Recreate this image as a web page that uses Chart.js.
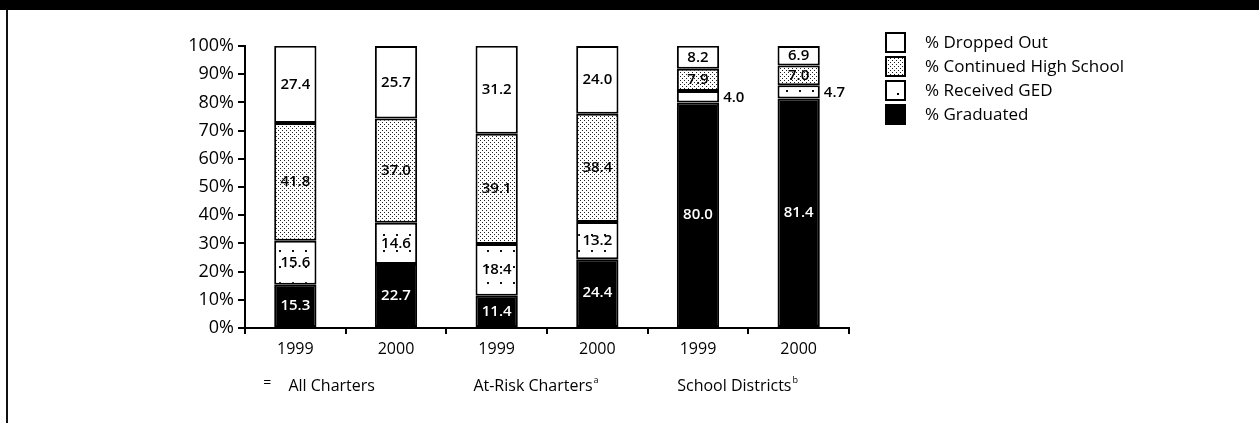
<!DOCTYPE html>
<html>
<head>
<meta charset="utf-8">
<script src="https://cdn.jsdelivr.net/npm/chart.js@4.4.1/dist/chart.umd.min.js"></script>
<style>
  html, body { margin: 0; padding: 0; background: #fff; }
  #page { position: relative; width: 1259px; height: 423px; overflow: hidden; }
  #topbar { position: absolute; left: 0; top: 0; width: 1259px; height: 10px; background: #000; }
  #leftline { position: absolute; left: 6px; top: 10px; width: 2px; height: 413px; background: #111; }
  #wrap { position: absolute; left: 0; top: 0; width: 1259px; height: 423px; }
</style>
</head>
<body>
<div id="page">
  <div id="wrap"><canvas id="grafico"></canvas></div>
  <div id="topbar"></div>
  <div id="leftline"></div>
</div>
<script>
const categorias = ['1999', '2000', '1999', '2000', '1999', '2000'];
const grupos = ['All Charters', 'At-Risk Charters', 'School Districts'];
const notasGrupo = ['', 'a', 'b'];
const yTicks = [0, 10, 20, 30, 40, 50, 60, 70, 80, 90, 100];

const graduated = [15.3, 22.7, 11.4, 24.4, 80.0, 81.4];
const receivedGed = [15.6, 14.6, 18.4, 13.2, 4.0, 4.7];
const continuedHs = [41.8, 37.0, 39.1, 38.4, 7.9, 7.0];
const droppedOut = [27.4, 25.7, 31.2, 24.0, 8.2, 6.9];

const nombres = ['% Graduated', '% Received GED', '% Continued High School', '% Dropped Out'];

const FONT = "'Open Sans', 'DejaVu Sans', sans-serif";

// patrones de relleno (punteado denso y punteado suelto)
function patron(w, h, puntos, color) {
    const c = document.createElement('canvas');
    c.width = w; c.height = h;
    const x = c.getContext('2d');
    x.fillStyle = '#fff';
    x.fillRect(0, 0, w, h);
    x.fillStyle = color;
    puntos.forEach(([px, py, s]) => x.fillRect(px, py, s || 1, s || 1));
    return x.createPattern(c, 'repeat');
}
const punteadoDenso = patron(4, 4, [[0, 0], [2, 2]], '#222');
const punteadoSuelto = patron(13, 16, [[6, 10, 2]], '#111');

const rellenos = ['#000', punteadoSuelto, punteadoDenso, '#fff'];
const series = [graduated, receivedGed, continuedHs, droppedOut];

const etiquetasPlugin = {
    id: 'etiquetas',
    afterDatasetsDraw(chart) {
        const ctx = chart.ctx;
        ctx.save();
        ctx.font = `600 15px ${FONT}`;
        ctx.textBaseline = 'middle';
        chart.data.datasets.forEach((ds, i) => {
            const meta = chart.getDatasetMeta(i);
            meta.data.forEach((el, j) => {
                const v = ds.data[j];
                const txt = v.toFixed(1);
                const yc = (el.y + el.base) / 2;
                if (v < 5) {
                    ctx.fillStyle = '#000';
                    ctx.textAlign = 'left';
                    ctx.fillText(txt, el.x + el.width / 2 + 4, yc + 1);
                } else {
                    ctx.fillStyle = i === 0 ? '#fff' : '#000';
                    ctx.textAlign = 'center';
                    ctx.fillText(txt, el.x, yc);
                }
            });
        });
        ctx.restore();
    },
    afterDraw(chart) {
        const ctx = chart.ctx;
        const xs = chart.scales.x;
        ctx.save();
        // nombres de grupo
        ctx.fillStyle = '#000';
        ctx.textBaseline = 'middle';
        grupos.forEach((g, k) => {
            const mid = (xs.getPixelForValue(2 * k) + xs.getPixelForValue(2 * k + 1)) / 2 - 14;
            ctx.font = `16px ${FONT}`;
            ctx.textAlign = 'center';
            ctx.fillText(g, mid, 386);
            if (notasGrupo[k]) {
                const w = ctx.measureText(g).width;
                ctx.font = `9px ${FONT}`;
                ctx.textAlign = 'left';
                ctx.fillText(notasGrupo[k], mid + w / 2 + 1, 380);
            }
        });
        ctx.font = `14px ${FONT}`;
        ctx.textAlign = 'center';
        ctx.fillText('=', xs.getPixelForValue(0) - 28, 383);

        // leyenda
        const lx = 886, ly0 = 33, paso = 24, caja = 19;
        for (let n = 3; n >= 0; n--) {
            const y = ly0 + (3 - n) * paso;
            ctx.fillStyle = rellenos[n];
            ctx.fillRect(lx, y, caja, caja);
            ctx.lineWidth = 2;
            ctx.strokeStyle = '#000';
            ctx.strokeRect(lx, y, caja, caja);
            if (n === 1) {
                ctx.fillStyle = '#fff';
                ctx.fillRect(lx + 1, y + 1, caja - 2, caja - 2);
                ctx.fillStyle = '#000';
                ctx.fillRect(lx + 11, y + 12, 2, 2);
            }
            ctx.fillStyle = '#000';
            ctx.font = `17px ${FONT}`;
            ctx.textAlign = 'left';
            ctx.textBaseline = 'middle';
            ctx.fillText(nombres[n], lx + 39, y + caja / 2 + 1);
        }
        ctx.restore();
    }
};

new Chart(document.getElementById('grafico'), {
    type: 'bar',
    data: {
        labels: categorias,
        datasets: series.map((d, i) => ({
            label: nombres[i],
            data: d,
            backgroundColor: rellenos[i],
            borderColor: '#000',
            borderWidth: 2,
            borderSkipped: false,
            categoryPercentage: 1,
            barPercentage: 0.42
        }))
    },
    options: {
        responsive: true,
        maintainAspectRatio: false,
        animation: false,
        layout: { padding: { left: 0, top: 46, right: 410, bottom: 0 } },
        plugins: { legend: { display: false }, tooltip: { enabled: false } },
        scales: {
            x: {
                stacked: true,
                grid: { drawOnChartArea: false, tickLength: 6, color: '#000', lineWidth: 2, offset: true },
                border: { display: true, color: '#000', width: 2 },
                ticks: { color: '#000', font: { family: FONT, size: 16 }, padding: 6, maxRotation: 0 },
                afterFit(s) { s.height = 95; }
            },
            y: {
                stacked: true,
                min: 0,
                max: 100,
                afterBuildTicks(s) { s.ticks = yTicks.map(v => ({ value: v })); },
                grid: { drawOnChartArea: false, tickLength: 7, color: '#000', lineWidth: 2 },
                border: { display: true, color: '#000', width: 2 },
                ticks: { color: '#000', font: { family: FONT, size: 18 }, padding: 4, callback: v => v + '%' },
                afterFit(s) { s.width = 245; }
            }
        }
    },
    plugins: [etiquetasPlugin]
});
</script>
</body>
</html>
